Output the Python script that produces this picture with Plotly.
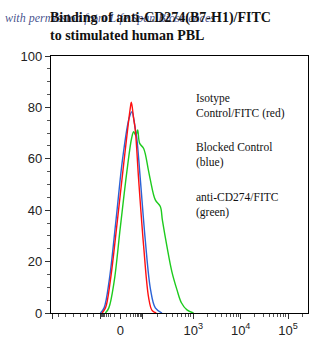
import math
import plotly.graph_objects as go

# x values are in display units of the biexponential axis (0 -> 1.463, 10^3 -> 3, 10^4 -> 4, 10^5 -> 5)
red_x = [1.078, 1.15, 1.253, 1.394, 1.533, 1.674, 1.695, 1.74, 1.779, 1.848, 1.954, 2.059, 2.131, 2.22]
red_y = [0, 2, 12.8, 35, 58, 80, 82, 76, 71, 52, 26, 6, 1, 0]

blue_x = [1.042, 1.12, 1.23, 1.37, 1.51, 1.65, 1.709, 1.75, 1.779, 1.81, 1.884, 1.99, 2.1, 2.2, 2.341]
blue_y = [0, 2, 13, 36, 60, 76, 78.3, 75, 71.5, 68, 52, 28, 9, 2, 0]

green_x = [1.147, 1.22, 1.33, 1.46, 1.6, 1.70, 1.743, 1.79, 1.827, 1.87, 1.954, 2.05, 2.095,
           2.2, 2.305, 2.35, 2.446, 2.55, 2.657, 2.75, 2.867, 3.006]
green_y = [0, 2, 12, 33, 55, 68, 70.5, 69, 71.2, 66, 64, 56, 51.8, 44, 41.4, 36, 25.8, 16, 9, 4,
           1.2, 0]

x_tick_vals = [0.03, 1.04, 1.463, 1.926, 3, 4, 5]
x_tick_text = ["", "", "0", "", "10<sup>3</sup>", "10<sup>4</sup>", "10<sup>5</sup>"]

title_lines = ["Binding of anti-CD274(B7-H1)/FITC", "to stimulated human PBL"]
legend_lines = ["Isotype<br>Control/FITC (red)", "Blocked Control<br>(blue)",
                "anti-CD274/FITC<br>(green)"]
watermark = "with permission from Life Span Biosciences"

# minor tick positions (axis decoration)
minor = [0.16, 0.30, 0.47, 0.62, 0.77, 0.89]
minor += [1.463 - math.log10(k) * 0.42 for k in range(2, 10)]
minor += [1.463 + math.log10(k) * 0.463 for k in range(2, 10)]
minor += [1.926 + math.log10(k) * 1.074 for k in range(2, 10)]
for d in (3, 4, 5):
    for k in range(2, 10):
        v = d + math.log10(k)
        if v < 5.42:
            minor.append(v)

fig = go.Figure()
fig.add_trace(go.Scatter(x=green_x, y=green_y, mode="lines", line=dict(color="#1ecb1e", width=1.4, shape="spline"), showlegend=False))
fig.add_trace(go.Scatter(x=blue_x, y=blue_y, mode="lines", line=dict(color="#2a62d6", width=1.4, shape="spline"), showlegend=False))
fig.add_trace(go.Scatter(x=red_x, y=red_y, mode="lines", line=dict(color="#ff1010", width=1.4, shape="spline"), showlegend=False))

fig.update_layout(
    width=332, height=359,
    margin=dict(l=51, r=24, t=56, b=46),
    paper_bgcolor="white", plot_bgcolor="white",
    xaxis=dict(range=[0.0, 5.42], tickmode="array", tickvals=x_tick_vals, ticktext=x_tick_text,
               ticks="outside", ticklen=5, tickcolor="#333", showgrid=False, zeroline=False,
               showline=True, linecolor="black", linewidth=1.2, mirror=True,
               tickfont=dict(family="Arial, Liberation Sans", size=13, color="#222"),
               minor=dict(tickmode="array", tickvals=minor, ticks="outside", ticklen=3, tickcolor="#555")),
    yaxis=dict(range=[0, 100], tickvals=[0, 20, 40, 60, 80, 100], ticks="outside", ticklen=5,
               tickcolor="#333", showgrid=False, zeroline=False, showline=True, linecolor="black",
               linewidth=1.2, mirror=True,
               tickfont=dict(family="Arial, Liberation Sans", size=13, color="#222"),
               minor=dict(dtick=5, ticks="outside", ticklen=3, tickcolor="#555")),
)

pw, ph = 332 - 51 - 24, 359 - 56 - 46
def px_to_paper(px, py):
    return (px - 51) / pw, (313 - py) / ph

wx, wy = px_to_paper(3, 9)
fig.add_annotation(text="<i>" + watermark + "</i>", x=wx, y=wy, xref="paper", yref="paper",
                   xanchor="left", yanchor="top", showarrow=False,
                   font=dict(family="Liberation Serif", size=12, color="rgba(30,50,120,0.85)"))
tx, ty = px_to_paper(48, 8)
fig.add_annotation(text="<b>" + title_lines[0] + "<br>" + title_lines[1] + "</b>", x=tx, y=ty,
                   xref="paper", yref="paper", xanchor="left", yanchor="top", align="left",
                   showarrow=False, font=dict(family="Liberation Serif", size=14, color="#111"))
for (lx, ly), txt in zip([(194, 90), (194, 139), (194, 189)], legend_lines):
    ax, ay = px_to_paper(lx, ly)
    fig.add_annotation(text=txt, x=ax, y=ay, xref="paper", yref="paper", xanchor="left", yanchor="top",
                       align="left", showarrow=False,
                       font=dict(family="Liberation Serif", size=11.5, color="#111"))

fig.write_html("out.html")
